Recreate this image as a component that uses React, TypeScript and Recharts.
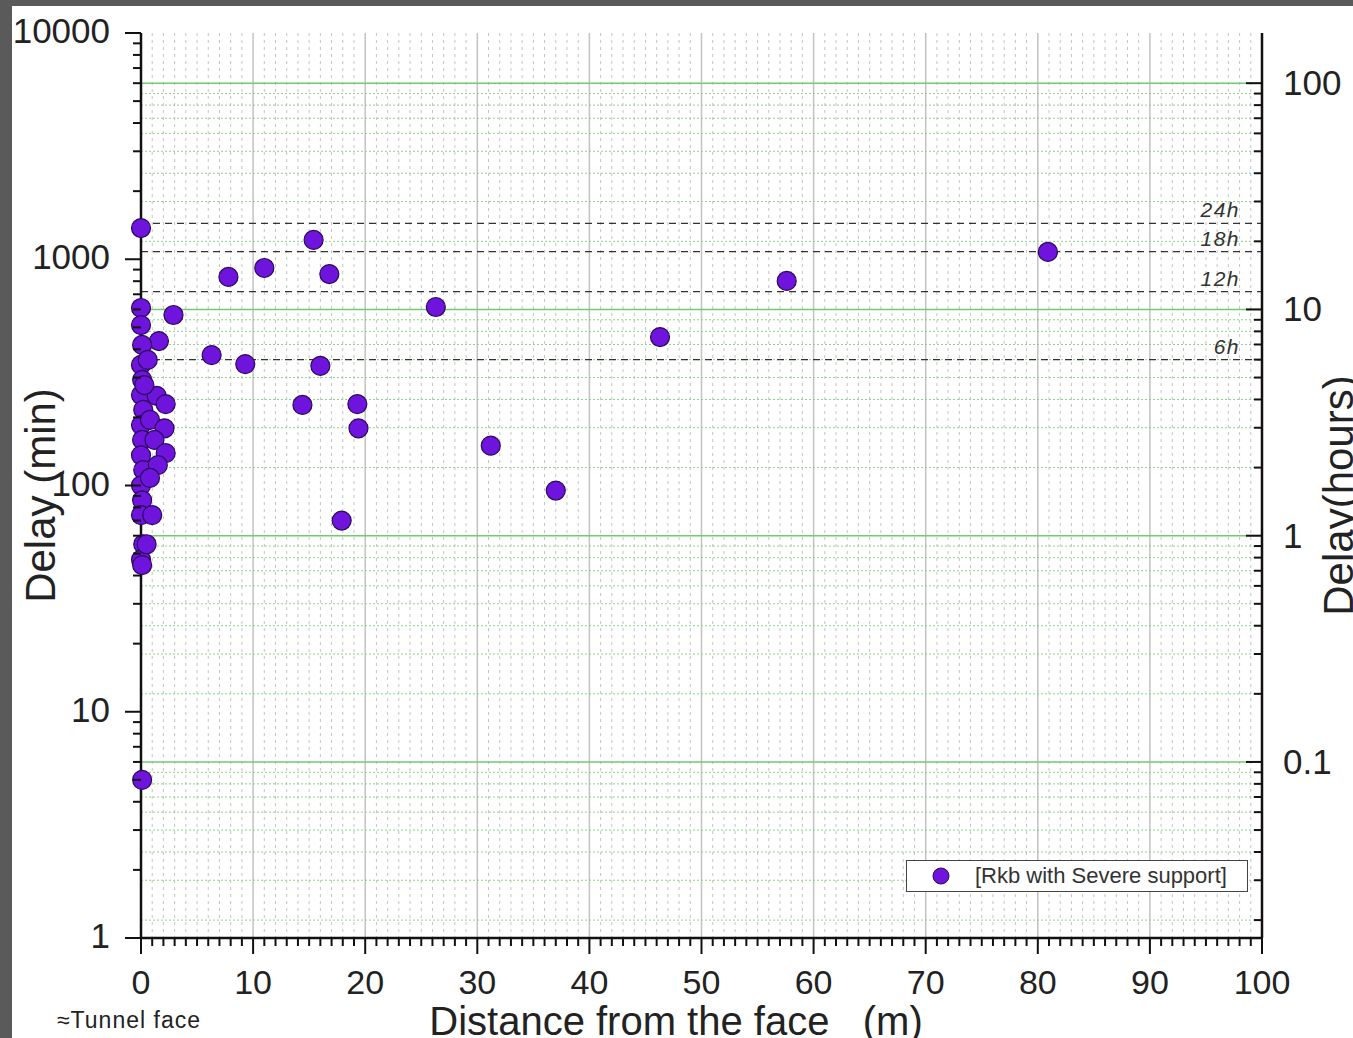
import {
  CartesianGrid,
  Label,
  Legend,
  ReferenceLine,
  Scatter,
  ScatterChart,
  XAxis,
  YAxis,
} from "recharts";

// distance from the face (m) and delay (min)
const distance = [
  0, 15.4, 80.9, 11.0, 7.8, 16.8, 57.6, 26.3, 2.9, 46.3, 1.6, 6.3, 9.3, 16.0, 14.4, 19.3, 19.4, 31.2, 37.0, 17.9, 0.1,
  0, 0, 0.1, 0, 0.1, 0, 0.2, 0, 0.1, 0, 0.2, 0, 0.1, 0, 0.2, 0, 0.1,
  1.4, 2.2, 0.8, 2.1, 1.2, 2.2, 1.5, 0.8, 1.0, 0.5, 0.3, 0.6,
];
const delayMin = [
  1374, 1217, 1077, 915, 835, 860, 802, 615, 567, 453, 435, 377, 344, 338, 227, 229, 179, 150, 95, 70, 5,
  609, 512, 418, 341, 293, 251, 216, 185, 159, 136, 117, 100, 86, 74, 55, 47, 44.5,
  249, 229, 195, 179, 159, 139, 123, 108, 74, 55, 278, 359,
];

const xMajor = [0, 10, 20, 30, 40, 50, 60, 70, 80, 90, 100];
const minDecades = [1, 10, 100, 1000, 10000];
const hourDecades = [0.01, 0.1, 1, 10, 100];
const multipliers = [2, 3, 4, 5, 6, 7, 8, 9];

// dashed reference durations
const markLabels = ["6h", "12h", "18h", "24h"];
const markMinutes = [360, 720, 1080, 1440];

const seriesName = "[Rkb with Severe support]";

const FONT = "'Liberation Sans', Arial, sans-serif";
const PURPLE = "#6e14dc";
const OUTLINE = "#2b0a5a";
const INK = "#222";

const points = distance.map((d, i) => ({ distance: d, delay: delayMin[i] }));

const xTicks: number[] = [];
for (let i = 0; i <= 100; i++) xTicks.push(i);
const xMinor = xTicks.filter((v) => v % 10 !== 0);

const minTicks: number[] = [];
minDecades.forEach((d) => {
  minTicks.push(d);
  if (d < 10000) multipliers.forEach((m) => minTicks.push(d * m));
});

const hourMin = 1 / 60;
const hourMax = 10000 / 60;
const hourTicks: number[] = [];
hourDecades.forEach((d) => {
  [1, ...multipliers].forEach((m) => {
    const v = d * m;
    if (v >= hourMin && v <= hourMax) hourTicks.push(v);
  });
});
const hourMajor = hourTicks.filter((v) => isDecade(v));
const hourMinor = hourTicks.filter((v) => !isDecade(v));

function isDecade(v: number) {
  const l = Math.log10(v);
  return Math.abs(l - Math.round(l)) < 1e-6;
}

const XTick = (props: any) => {
  const { x, y, payload } = props;
  const v = payload.value;
  const major = v % 10 === 0;
  return (
    <g>
      <line x1={x} x2={x} y1={y} y2={y + (major ? 16 : 8)} stroke="#111" strokeWidth={2} />
      {major && (
        <text x={x} y={y + 56} textAnchor="middle" fontSize={34} fontFamily={FONT} fill={INK}>
          {v}
        </text>
      )}
    </g>
  );
};

const LeftTick = (props: any) => {
  const { x, y, payload } = props;
  const v = payload.value;
  const major = isDecade(v);
  return (
    <g>
      <line x1={x - (major ? 16 : 8)} x2={x} y1={y} y2={y} stroke="#111" strokeWidth={2} />
      {major && (
        <text x={x - 31} y={y + 10} textAnchor="end" fontSize={35} fontFamily={FONT} fill={INK}>
          {v}
        </text>
      )}
    </g>
  );
};

const RightTick = (props: any) => {
  const { x, y, payload } = props;
  const v = payload.value;
  const major = isDecade(v);
  return (
    <g>
      <line x1={x - (major ? 16 : 8)} x2={x} y1={y} y2={y} stroke="#111" strokeWidth={2} />
      {major && (
        <text x={x + 21} y={y + 12} textAnchor="start" fontSize={35} fontFamily={FONT} fill={INK}>
          {Number(v.toPrecision(3))}
        </text>
      )}
    </g>
  );
};

const Dot = (p: any) => (
  <circle cx={p.cx} cy={p.cy} r={9.5} fill={PURPLE} stroke={OUTLINE} strokeWidth={1.2} />
);

const renderLegend = () => (
  <div
    style={{
      width: 342,
      height: 32,
      boxSizing: "border-box",
      border: "1.5px solid #444",
      background: "#fff",
      display: "flex",
      alignItems: "center",
      fontFamily: FONT,
      fontSize: 22,
      color: "#333",
    }}
  >
    <svg width={68} height={30}>
      <circle cx={34} cy={15} r={8} fill={PURPLE} stroke={OUTLINE} />
    </svg>
    <span>{seriesName}</span>
  </div>
);

export default function App() {
  return (
    <div style={{ position: "absolute", left: 0, top: 0, width: 1353, height: 1038, background: "#5a5a5a" }}>
      <div style={{ position: "absolute", left: 12, top: 6, width: 1341, height: 1032, background: "#fff" }}>
        <ScatterChart width={1341} height={1032} margin={{ top: 27, right: 0, bottom: 0, left: 0 }}>
          <CartesianGrid horizontal={false} verticalValues={xMinor} stroke="#c4c4c4" strokeDasharray="3 4" />
          <CartesianGrid
            horizontal={false}
            verticalValues={xMajor.slice(1, -1)}
            stroke="#c2c2c2"
            strokeWidth={1.5}
          />
          <CartesianGrid
            vertical={false}
            horizontalValues={hourMinor.map((h) => h * 60)}
            stroke="#86d686"
            strokeDasharray="2 2"
          />
          <CartesianGrid
            vertical={false}
            horizontalValues={hourMajor.map((h) => h * 60)}
            stroke="#6fcc6f"
            strokeWidth={1.6}
          />
          <XAxis
            dataKey="distance"
            type="number"
            domain={[0, 100]}
            ticks={xTicks}
            interval={0}
            height={100}
            tickSize={0}
            tickMargin={0}
            tickLine={false}
            tick={<XTick />}
            axisLine={{ stroke: "#111", strokeWidth: 2.5 }}
          >
            <Label
              content={(p: any) => {
                const vb = p.viewBox;
                return (
                  <g fontFamily={FONT} fill={INK}>
                    <text x={vb.x + 535} y={vb.y + 97} textAnchor="middle" fontSize={40} style={{ whiteSpace: "pre" }}>
                      {"Distance from the face   (m)"}
                    </text>
                    <text x={vb.x - 84} y={vb.y + 90} fontSize={23} letterSpacing={1}>
                      ≈Tunnel face
                    </text>
                  </g>
                );
              }}
            />
          </XAxis>
          <XAxis
            xAxisId="top"
            orientation="top"
            type="number"
            domain={[0, 100]}
            height={0}
            tick={false}
            tickLine={false}
            axisLine={{ stroke: "#111", strokeWidth: 2.5 }}
          />
          <YAxis
            dataKey="delay"
            type="number"
            scale="log"
            domain={[1, 10000]}
            allowDataOverflow
            ticks={minTicks}
            interval={0}
            width={129}
            tickSize={0}
            tickMargin={0}
            tickLine={false}
            tick={<LeftTick />}
            axisLine={{ stroke: "#111", strokeWidth: 2.5 }}
          >
            <Label
              content={(p: any) => {
                const vb = p.viewBox;
                const cx = vb.x + 28;
                const cy = vb.y + vb.height / 2 + 10;
                return (
                  <text
                    x={cx}
                    y={cy}
                    transform={`rotate(-90 ${cx} ${cy})`}
                    textAnchor="middle"
                    dominantBaseline="central"
                    fontSize={42}
                    fontFamily={FONT}
                    fill={INK}
                  >
                    Delay (min)
                  </text>
                );
              }}
            />
          </YAxis>
          <YAxis
            yAxisId="hours"
            orientation="right"
            type="number"
            scale="log"
            domain={[hourMin, hourMax]}
            allowDataOverflow
            ticks={hourTicks}
            interval={0}
            width={91}
            tickSize={0}
            tickMargin={0}
            tickLine={false}
            tick={<RightTick />}
            axisLine={{ stroke: "#111", strokeWidth: 2.5 }}
          >
            <Label
              content={(p: any) => {
                const vb = p.viewBox;
                const cx = vb.x + 76;
                const cy = vb.y + vb.height / 2 + 10;
                return (
                  <text
                    x={cx}
                    y={cy}
                    transform={`rotate(-90 ${cx} ${cy})`}
                    textAnchor="middle"
                    dominantBaseline="central"
                    fontSize={42}
                    fontFamily={FONT}
                    fill={INK}
                  >
                    Delay(hours)
                  </text>
                );
              }}
            />
          </YAxis>
          {markMinutes.map((m, i) => (
            <ReferenceLine
              key={markLabels[i]}
              y={m}
              stroke="#333"
              strokeDasharray="7 5"
              strokeWidth={1.2}
              label={(p: any) => {
                const vb = p.viewBox;
                return (
                  <text
                    x={vb.x + vb.width - 22}
                    y={vb.y - 6}
                    textAnchor="end"
                    fontSize={21}
                    fontStyle="italic"
                    letterSpacing={1.5}
                    fontFamily={FONT}
                    fill="#333"
                  >
                    {markLabels[i]}
                  </text>
                );
              }}
            />
          ))}
          <Scatter name={seriesName} data={points} shape={Dot} isAnimationActive={false} />
          <Legend
            content={renderLegend}
            layout="vertical"
            align="center"
            verticalAlign="middle"
            wrapperStyle={{ left: 894, top: 854, width: 342, height: 32 }}
          />
        </ScatterChart>
      </div>
    </div>
  );
}
